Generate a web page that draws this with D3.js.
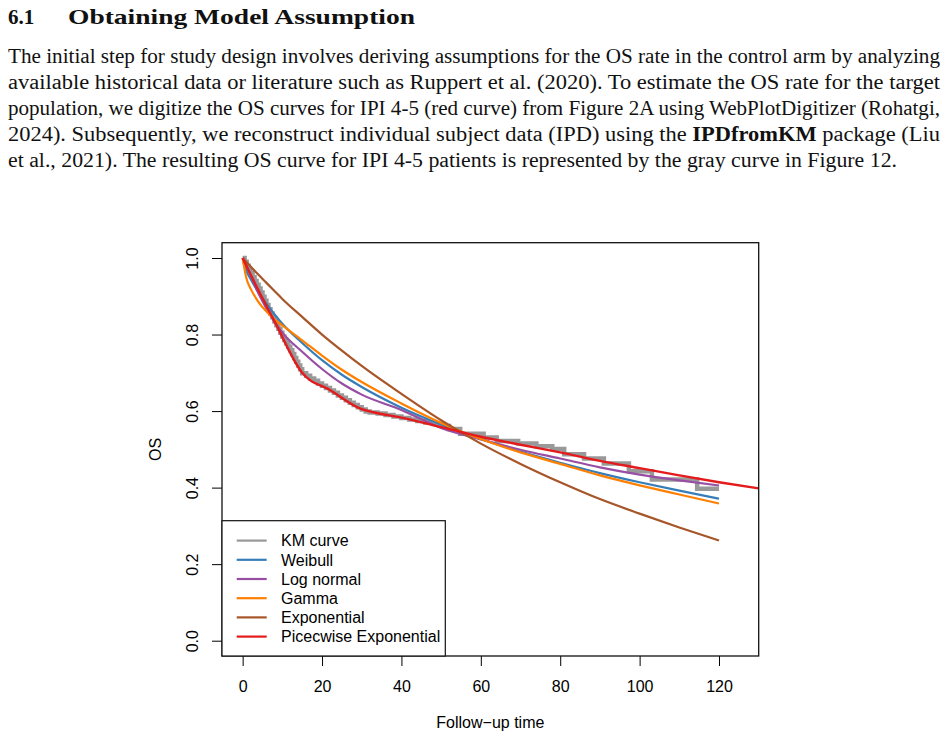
<!DOCTYPE html>
<html>
<head>
<meta charset="utf-8">
<script src="https://cdn.jsdelivr.net/npm/d3@7.9.0/dist/d3.min.js"></script>
<style>
  html, body { margin: 0; padding: 0; background: #fff; }
  svg { display: block; }
  .chart text { font-family: "Liberation Sans", Arial, sans-serif; font-size: 16px; fill: #000; }
  .page text { font-family: "Liberation Serif", "Times New Roman", serif; fill: #111; }
</style>
</head>
<body>
<svg id="fig" width="948" height="741"></svg>
<script>
// ---- text of the page ----
const headingNum = '6.1';
const headingText = 'Obtaining Model Assumption';
const paragraphLines = [
  [['The initial step for study design involves deriving assumptions for the OS rate in the control arm by analyzing', false]],
  [['available historical data or literature such as Ruppert et al. (2020). To estimate the OS rate for the target', false]],
  [['population, we digitize the OS curves for IPI 4-5 (red curve) from Figure 2A using WebPlotDigitizer (Rohatgi,', false]],
  [['2024). Subsequently, we reconstruct individual subject data (IPD) using the ', false], ['IPDfromKM', true], [' package (Liu', false]],
  [['et al., 2021). The resulting OS curve for IPI 4-5 patients is represented by the gray curve in Figure 12.', false]]
];
const lineWidths = [932, 932, 932, 932, 889];

// ---- chart data ----
const xTicks = [0, 20, 40, 60, 80, 100, 120];
const yTicks = [0, 0.2, 0.4, 0.6, 0.8, 1.0];

const kmTimes = [0,0.5,1,1.5,2,2.5,3,3.5,4,4.5,5,5.5,6,6.5,7,7.5,8,8.5,9,9.5,10,10.5,11,11.5,12,12.5,13,13.5,14,14.5,15,
  16,17,18,19,20,21,22,23,24,25,26,27,28,29,30,31,32,34,36,38,40,42,44,46,48,50,52,54.8,60.7,64,69.4,74,78,81,86,91,97.3,103.1,114.5,120];
const kmOS = [1,0.99,0.98,0.97,0.96,0.95,0.94,0.93,0.92,0.91,0.899,0.888,0.877,0.866,0.855,0.845,0.834,0.824,0.815,0.805,0.795,0.786,0.777,0.768,0.759,0.749,0.739,0.729,0.719,0.709,0.699,
  0.692,0.685,0.679,0.672,0.666,0.66,0.654,0.648,0.641,0.635,0.628,0.622,0.616,0.61,0.604,0.599,0.596,0.594,0.59,0.586,0.582,0.578,0.574,0.57,0.566,0.561,0.553,0.541,0.531,0.522,0.515,0.508,0.501,0.487,0.476,0.463,0.443,0.421,0.397,0.397];

const modelTimes = [0,1,2,4,6,8,10,15,20,25,30,40,50,60,70,80,90,100,110,120];
const weibullOS = [1,0.965,0.945,0.91,0.88,0.853,0.828,0.778,0.733,0.695,0.663,0.609,0.565,0.527,0.494,0.465,0.438,0.414,0.392,0.371];
const lognormalOS = [1,0.98,0.955,0.907,0.868,0.834,0.805,0.755,0.71,0.672,0.643,0.603,0.556,0.526,0.499,0.476,0.453,0.434,0.419,0.4055];
const gammaOS = [1,0.945,0.92,0.885,0.86,0.84,0.824,0.785,0.745,0.708,0.676,0.62,0.569,0.527,0.492,0.462,0.432,0.406,0.382,0.3585];
const exponentialOS = [1,0.989,0.978,0.956,0.935,0.914,0.893,0.846,0.80,0.758,0.718,0.645,0.576,0.515,0.462,0.414,0.37,0.332,0.296,0.262];

const pweTimes = [0,4,8,15,22,30,33,40,50,60,70,80,90,100,110,120,130];
const pweOS = [1,0.915,0.835,0.70,0.655,0.605,0.597,0.583,0.558,0.533,0.512,0.492,0.47,0.451,0.432,0.414,0.398];

const legendLabels = ['KM curve', 'Weibull', 'Log normal', 'Gamma', 'Exponential', 'Picecwise Exponential'];
const legendColors = ['#999999', '#377EB8', '#984EA3', '#FF7F00', '#A65628', '#E41A1C'];

const svg = d3.select('#fig');
svg.append('rect').attr('width', 948).attr('height', 741).attr('fill', '#fff');

// ---- heading + paragraph ----
const page = svg.append('g').attr('class', 'page');
page.append('text').attr('x', 8).attr('y', 24)
  .style('font-size', '21px').style('font-weight', 'bold').text(headingNum);
page.append('text').attr('x', 68).attr('y', 24)
  .style('font-size', '21px').style('font-weight', 'bold')
  .attr('textLength', 347).attr('lengthAdjust', 'spacingAndGlyphs')
  .text(headingText);

paragraphLines.forEach((parts, i) => {
  const t = page.append('text')
    .attr('x', 8).attr('y', 63 + i * 26)
    .style('font-size', '20px')
    .attr('textLength', lineWidths[i]).attr('lengthAdjust', 'spacingAndGlyphs');
  parts.forEach(([s, bold]) => {
    t.append('tspan').style('font-weight', bold ? 'bold' : 'normal').text(s);
  });
});

// ---- chart ----
const box = { left: 222, right: 758.7, top: 242.7, bottom: 656 };
const x = d3.scaleLinear().domain([-5.2, 130]).range([box.left, box.right]);
const y = d3.scaleLinear().domain([-0.04, 1.04]).range([box.bottom, box.top]);

const chart = svg.append('g').attr('class', 'chart');

chart.append('clipPath').attr('id', 'plotclip')
  .append('rect')
  .attr('x', box.left).attr('y', box.top)
  .attr('width', box.right - box.left).attr('height', box.bottom - box.top);

const curves = chart.append('g').attr('clip-path', 'url(#plotclip)');

const kmLine = d3.line()
  .x((d, i) => x(kmTimes[i]))
  .y(d => y(d))
  .curve(d3.curveStepAfter);

curves.append('path')
  .datum(kmOS)
  .attr('d', kmLine)
  .attr('fill', 'none')
  .attr('stroke', legendColors[0])
  .attr('stroke-width', 4.5);

const smooth = times => d3.line()
  .x((d, i) => x(times[i]))
  .y(d => y(d))
  .curve(d3.curveMonotoneX);

const models = [
  [weibullOS, legendColors[1]],
  [lognormalOS, legendColors[2]],
  [gammaOS, legendColors[3]],
  [exponentialOS, legendColors[4]]
];
models.forEach(([vals, col]) => {
  curves.append('path')
    .datum(vals)
    .attr('d', smooth(modelTimes))
    .attr('fill', 'none')
    .attr('stroke', col)
    .attr('stroke-width', 2.2);
});

curves.append('path')
  .datum(pweOS)
  .attr('d', smooth(pweTimes))
  .attr('fill', 'none')
  .attr('stroke', legendColors[5])
  .attr('stroke-width', 2.4);

// axes
const xAxis = chart.append('g')
  .attr('transform', `translate(0,${box.bottom})`)
  .call(d3.axisBottom(x).tickValues(xTicks).tickSize(10).tickFormat(d3.format('d')));
xAxis.select('.domain').remove();
xAxis.selectAll('text').attr('y', 36).attr('dy', null)
  .style('font-family', '"Liberation Sans", Arial, sans-serif').style('font-size', '16px');

const yAxis = chart.append('g')
  .attr('transform', `translate(${box.left},0)`)
  .call(d3.axisLeft(y).tickValues(yTicks).tickSize(10).tickFormat(d3.format('.1f')));
yAxis.select('.domain').remove();
yAxis.selectAll('text')
  .attr('x', null).attr('dy', null)
  .attr('text-anchor', 'middle')
  .attr('transform', 'translate(-24,0) rotate(-90)')
  .style('font-family', '"Liberation Sans", Arial, sans-serif').style('font-size', '16px');
chart.selectAll('.tick line').attr('stroke', '#000');

// plot frame
chart.append('rect')
  .attr('x', box.left).attr('y', box.top)
  .attr('width', box.right - box.left).attr('height', box.bottom - box.top)
  .attr('fill', 'none').attr('stroke', '#111').attr('stroke-width', 1.3);

// axis titles
chart.append('text')
  .attr('x', (box.left + box.right) / 2).attr('y', 728)
  .attr('text-anchor', 'middle')
  .text('Follow\u2212up time');
chart.append('text')
  .attr('transform', `translate(161,${(box.top + box.bottom) / 2}) rotate(-90)`)
  .attr('text-anchor', 'middle')
  .text('OS');

// legend
const legend = chart.append('g');
legend.append('rect')
  .attr('x', box.left).attr('y', 520.7)
  .attr('width', 445.3 - box.left).attr('height', box.bottom - 520.7)
  .attr('fill', '#fff').attr('stroke', '#111').attr('stroke-width', 1.2);

const rows = legend.selectAll('g.row')
  .data(legendLabels)
  .join('g')
  .attr('class', 'row')
  .attr('transform', (d, i) => `translate(0,${540.6 + i * 19.2})`);
rows.append('line')
  .attr('x1', 236.7).attr('x2', 266.7)
  .attr('stroke', (d, i) => legendColors[i])
  .attr('stroke-width', 2.2);
rows.append('text')
  .attr('x', 281).attr('dy', '0.36em')
  .text(d => d);
</script>
</body>
</html>
